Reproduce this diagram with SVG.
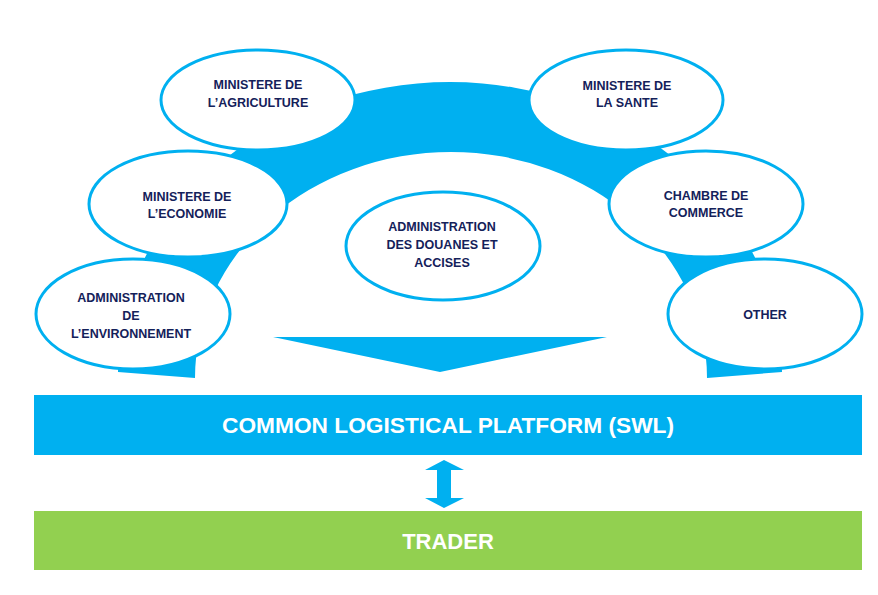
<svg xmlns="http://www.w3.org/2000/svg" width="878" height="595" viewBox="0 0 878 595">
<style>
.bg{fill:#ffffff}
.band{fill:#00B0F0}
.node{fill:#ffffff;stroke:#00B0F0;stroke-width:3}
.lbl{font-family:"Liberation Sans",Arial,sans-serif;font-weight:bold;font-size:12.5px;fill:#14215A;text-anchor:middle}
.bar{font-family:"Liberation Sans",Arial,sans-serif;font-weight:bold;font-size:22px;fill:#ffffff;text-anchor:middle}
</style>
<rect class="bg" x="0" y="0" width="878" height="595"/>
<g id="connectors">
  <path class="band" d="M118,372 A332,290 0 0 1 782,372 L707,378 A256,226 0 0 0 195,378 Z"/>
  <polygon class="band" points="273,337 607,337 440,372"/>
  <polygon class="band" points="444,460 464,470 451,470 451,498 464,498 444,508 425,498 437,498 437,470 425,470"/>
</g>
<g id="agriculture">
  <ellipse class="node" cx="258" cy="100" rx="97" ry="50"/>
  <text class="lbl" x="258" y="89">MINISTERE DE</text>
  <text class="lbl" x="258" y="107">L’AGRICULTURE</text>
</g>
<g id="sante">
  <ellipse class="node" cx="626" cy="100" rx="97" ry="50"/>
  <text class="lbl" x="627" y="90">MINISTERE DE</text>
  <text class="lbl" x="627" y="107">LA SANTE</text>
</g>
<g id="economie">
  <ellipse class="node" cx="188" cy="204" rx="99" ry="53"/>
  <text class="lbl" x="187" y="201">MINISTERE DE</text>
  <text class="lbl" x="187" y="218">L’ECONOMIE</text>
</g>
<g id="chambre">
  <ellipse class="node" cx="706" cy="204" rx="97" ry="53"/>
  <text class="lbl" x="706" y="200">CHAMBRE DE</text>
  <text class="lbl" x="706" y="217">COMMERCE</text>
</g>
<g id="environnement">
  <ellipse class="node" cx="133" cy="314" rx="97" ry="55"/>
  <text class="lbl" x="131" y="302">ADMINISTRATION</text>
  <text class="lbl" x="131" y="320">DE</text>
  <text class="lbl" x="131" y="338">L’ENVIRONNEMENT</text>
</g>
<g id="douanes">
  <ellipse class="node" cx="443" cy="246" rx="97" ry="54"/>
  <text class="lbl" x="442" y="231">ADMINISTRATION</text>
  <text class="lbl" x="442" y="249">DES DOUANES ET</text>
  <text class="lbl" x="442" y="267">ACCISES</text>
</g>
<g id="other">
  <ellipse class="node" cx="765" cy="314" rx="97" ry="55"/>
  <text class="lbl" x="765" y="319">OTHER</text>
</g>
<g id="platform">
  <rect x="34" y="395" width="828" height="60" fill="#00B0F0"/>
  <text class="bar" x="448" y="433" textLength="452" lengthAdjust="spacingAndGlyphs">COMMON LOGISTICAL PLATFORM (SWL)</text>
</g>
<g id="trader">
  <rect x="34" y="511" width="828" height="59" fill="#92D050"/>
  <text class="bar" x="448" y="549">TRADER</text>
</g>
</svg>
